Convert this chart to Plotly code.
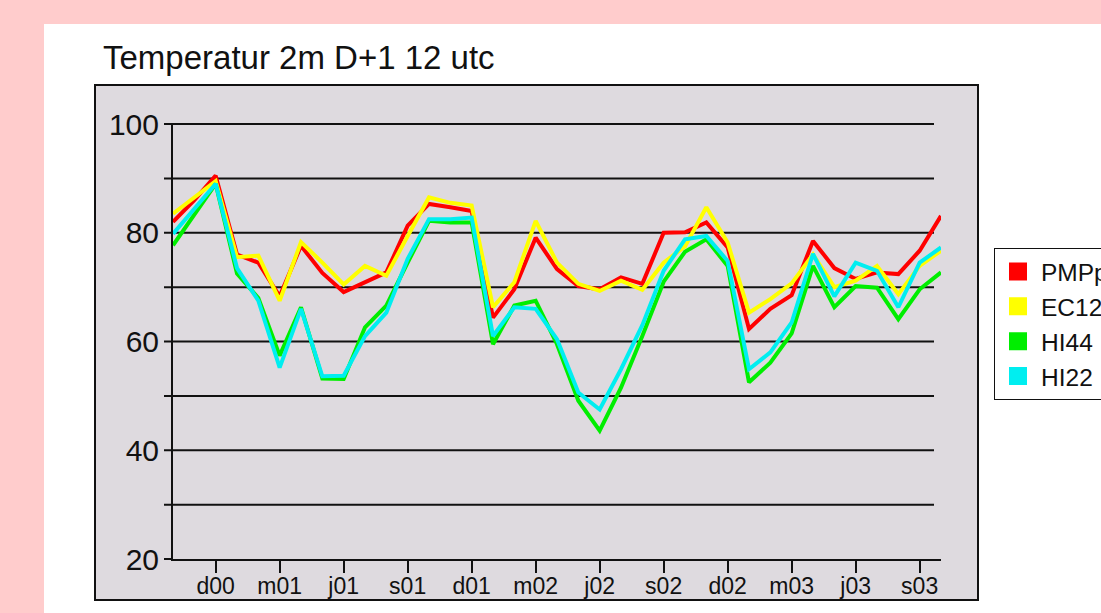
import plotly.graph_objects as go

# ---- data (monthly, Oct 2000 .. Oct 2003) ----
months = list(range(37))
tick_pos = [2, 5, 8, 11, 14, 17, 20, 23, 26, 29, 32, 35]
tick_labels = ["d00", "m01", "j01", "s01", "d01", "m02", "j02", "s02", "d02", "m03", "j03", "s03"]

pmp = [82.0, 86.0, 90.5, 76.0, 74.5, 68.3, 77.6, 72.6, 69.1, 70.9, 72.7, 81.3, 85.3, 84.7, 84.0,
       64.4, 69.6, 79.1, 73.3, 70.2, 69.6, 71.8, 70.6, 80.0, 80.1, 81.9, 77.3, 62.3, 66.0, 68.5,
       78.5, 73.5, 71.5, 72.7, 72.4, 76.7, 83.1]
ec12 = [83.5, 86.5, 89.5, 75.5, 75.8, 67.5, 78.3, 74.5, 70.5, 73.9, 72.1, 79.4, 86.5, 85.5, 85.0,
        66.3, 70.9, 82.2, 74.5, 70.6, 69.3, 71.2, 69.5, 74.5, 77.5, 84.7, 78.2, 65.3, 67.8, 70.7,
        76.0, 70.0, 71.2, 73.9, 68.7, 73.9, 76.7]
hi44 = [77.7, 83.5, 89.0, 72.5, 68.0, 57.4, 66.3, 53.2, 53.1, 62.6, 66.6, 74.5, 82.2, 81.9, 81.9,
        59.5, 66.6, 67.5, 59.5, 49.1, 43.6, 51.5, 61.0, 71.0, 76.5, 78.8, 73.9, 52.5, 56.1, 61.5,
        73.9, 66.3, 70.2, 69.9, 64.1, 69.6, 72.7]
hi22 = [79.8, 84.5, 89.0, 73.5, 67.5, 55.2, 66.0, 53.6, 53.7, 61.0, 65.3, 75.2, 82.5, 82.5, 82.8,
        61.0, 66.3, 66.0, 60.4, 50.6, 47.5, 54.9, 63.0, 73.0, 78.8, 79.4, 74.8, 54.9, 58.0, 63.5,
        76.1, 68.3, 74.5, 73.0, 66.3, 74.5, 77.3]

names = ["PMPp", "EC12", "HI44", "HI22"]
series = [pmp, ec12, hi44, hi22]
colors = ["#ff0000", "#ffff00", "#00ee00", "#00eef0"]

FONT = "Liberation Sans, Arial, Helvetica, sans-serif"

fig = go.Figure()
for nm, ys, c in zip(names, series, colors):
    fig.add_trace(go.Scatter(x=months, y=ys, mode="lines", name=nm,
                             line=dict(color=c, width=4), showlegend=False))
for nm, c in zip(names, colors):
    fig.add_trace(go.Scatter(x=[None], y=[None], mode="markers", name=nm,
                             marker=dict(symbol="square", size=16, color=c,
                                         line=dict(color=c, width=2))))

W, H = 1101, 613
L, R, T, B = 173, 160, 124, 54
pw = W - L - R
ph = H - T - B

def px(x):
    return (x - L) / pw

def py(y):
    return (H - B - y) / ph

shapes = []
# white panel
shapes.append(dict(type="rect", xref="paper", yref="paper", x0=px(44), x1=px(1200),
                   y0=py(700), y1=py(24), fillcolor="white", line=dict(width=0), layer="below"))
# gray frame
shapes.append(dict(type="rect", xref="paper", yref="paper", x0=px(95), x1=px(978),
                   y0=py(600), y1=py(85), fillcolor="#dedadf",
                   line=dict(color="#111111", width=2), layer="below"))
# horizontal grid lines
for v in range(30, 101, 10):
    yy = 559 - (v - 20) * ph / 80
    shapes.append(dict(type="line", xref="paper", yref="paper", x0=px(164), x1=px(934),
                       y0=py(yy), y1=py(yy), line=dict(color="#111111", width=2), layer="below"))
shapes.append(dict(type="line", xref="paper", yref="paper", x0=px(164), x1=px(173),
                   y0=0, y1=0, line=dict(color="#111111", width=2), layer="below"))

fig.update_layout(
    width=W, height=H,
    paper_bgcolor="#ffcccc", plot_bgcolor="rgba(0,0,0,0)",
    margin=dict(l=L, r=R, t=T, b=B, autoexpand=False),
    shapes=shapes,
    showlegend=True,
    legend=dict(x=px(994), y=py(248), xanchor="left", yanchor="top",
                bgcolor="white", bordercolor="#111111", borderwidth=1,
                font=dict(family=FONT, size=24.5, color="#111111"),
                itemsizing="trace", itemwidth=36, tracegroupgap=0),
    xaxis=dict(range=[0, 36], tickvals=tick_pos, ticktext=tick_labels,
               showgrid=False, zeroline=False, showline=True, linecolor="#111111", linewidth=2,
               ticks="outside", ticklen=12, tickwidth=1.5, tickcolor="#111111",
               ticklabelstandoff=-7,
               tickfont=dict(family=FONT, size=23, color="#111111")),
    yaxis=dict(range=[20, 100], tickvals=[20, 40, 60, 80, 100],
               showgrid=False, zeroline=False, showline=True, linecolor="#111111", linewidth=2,
               ticks="", ticklabelstandoff=6,
               tickfont=dict(family=FONT, size=30, color="#111111")),
    annotations=[dict(text="Temperatur 2m D+1 12 utc", xref="paper", yref="paper",
                      x=px(101), y=py(58), xanchor="left", yanchor="middle", showarrow=False,
                      font=dict(family=FONT, size=33, color="#111111"))],
)

fig.write_html("out.html", config={"displayModeBar": False},
               post_script="document.body.style.margin='0';document.body.style.overflow='hidden';")
